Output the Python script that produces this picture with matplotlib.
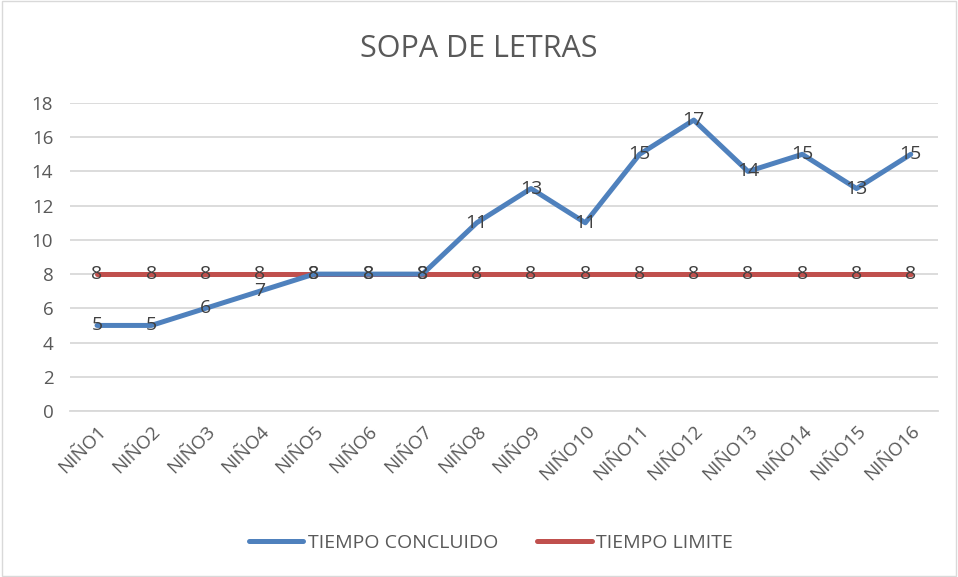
import matplotlib.pyplot as plt
from matplotlib.patches import Rectangle

categorias = ['NIÑO1', 'NIÑO2', 'NIÑO3', 'NIÑO4', 'NIÑO5', 'NIÑO6', 'NIÑO7', 'NIÑO8',
              'NIÑO9', 'NIÑO10', 'NIÑO11', 'NIÑO12', 'NIÑO13', 'NIÑO14', 'NIÑO15', 'NIÑO16']
tiempo_concluido = [5, 5, 6, 7, 8, 8, 8, 11, 13, 11, 15, 17, 14, 15, 13, 15]
tiempo_limite = [8, 8, 8, 8, 8, 8, 8, 8, 8, 8, 8, 8, 8, 8, 8, 8]

plt.rcParams['font.family'] = ['Open Sans', 'DejaVu Sans']
gris = '#595959'

fig = plt.figure(figsize=(9.58, 5.77), dpi=100)
ax = fig.add_axes([0.073, 0.2877, 0.906, 0.5338])

x = list(range(len(categorias)))
ax.plot(x, tiempo_concluido, color='#4F81BD', lw=3.6, label='TIEMPO CONCLUIDO',
        solid_capstyle='round', zorder=3)
ax.plot(x, tiempo_limite, color='#C0504D', lw=3.6, label='TIEMPO LIMITE',
        solid_capstyle='round', zorder=2)

for xi, v in zip(x, tiempo_concluido):
    ax.text(xi, v, str(v), ha='center', va='center', fontsize=14, color='#404040', zorder=4)
for xi, v in zip(x, tiempo_limite):
    ax.text(xi, v, str(v), ha='center', va='center', fontsize=14, color='#404040', zorder=4)

ax.set_xlim(-0.5, len(categorias) - 0.5)
ax.set_ylim(0, 18)
ax.set_yticks(range(0, 19, 2))
ax.yaxis.grid(True, color='#D9D9D9', lw=1.3)
ax.set_axisbelow(True)
for s in ['top', 'right', 'left']:
    ax.spines[s].set_visible(False)
ax.spines['bottom'].set_color('#D9D9D9')
ax.spines['bottom'].set_linewidth(1.3)
ax.tick_params(axis='both', length=0, labelsize=13.5, colors=gris)
ax.tick_params(axis='y', pad=12)
ax.set_xticks(x)
ax.set_xticklabels(categorias, rotation=45, ha='right', rotation_mode='anchor')
ax.tick_params(axis='x', pad=8)

fig.text(0.5, 0.915, 'SOPA DE LETRAS', ha='center', va='center', fontsize=22, color=gris)

leg = fig.legend(loc='center', bbox_to_anchor=(0.5125, 0.059), ncol=2, frameon=False,
                 fontsize=14, handlelength=2.8, columnspacing=2.0, handletextpad=0.25)
for t in leg.get_texts():
    t.set_color(gris)

fig.patches.append(Rectangle((0.002, 0.002), 0.996, 0.996, transform=fig.transFigure,
                             fill=False, edgecolor='#D9D9D9', lw=1))

fig.savefig('out.png', dpi=100)
